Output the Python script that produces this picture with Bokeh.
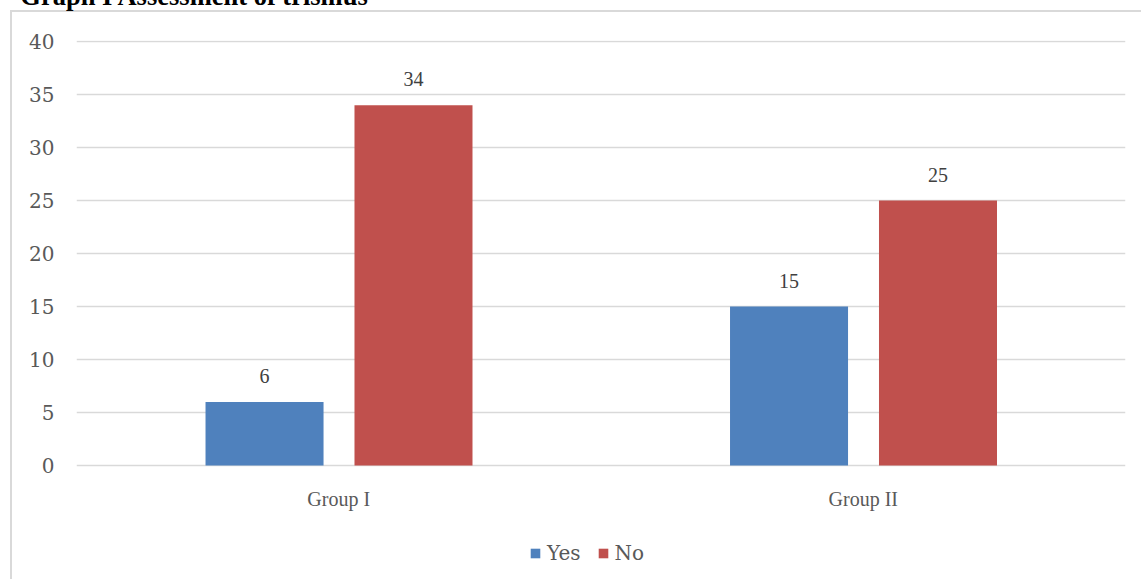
from bokeh.plotting import figure
from bokeh.models import (ColumnDataSource, Range1d, LabelSet,
                          Legend, LegendItem, FixedTicker, LinearAxis)
from bokeh.embed import file_html
from bokeh.resources import INLINE

groups = ["Group I", "Group II"]
yes_vals = [6, 15]
no_vals = [34, 25]
y_ticks = [0, 5, 10, 15, 20, 25, 30, 35, 40]
title_text = "Graph I Assessment of trismus"

BLUE = "#4F81BD"
RED = "#C0504D"
GRID = "#D9D9D9"
TXT = "#595959"
FONT = "DejaVu Serif"
FS = "20px"
SHIFT = 40  # canvas shifted up so the cut-off title sits at the window's top edge
BAR_W = 0.225
OFF_YES, OFF_NO = -0.1415, 0.1425

n = len(groups)
centers = [i + 0.5 for i in range(n)]
src = ColumnDataSource(dict(groups=groups, xc=centers,
                            x_yes=[c + OFF_YES for c in centers],
                            x_no=[c + OFF_NO for c in centers],
                            yes=yes_vals, no=no_vals, base=[0] * n,
                            yes_lbl=[str(v) for v in yes_vals],
                            no_lbl=[str(v) for v in no_vals]))

p = figure(width=1141, height=579 + SHIFT, x_range=Range1d(0, n),
           y_range=Range1d(-10.755, 40.1), x_axis_location=None,
           output_backend="svg", toolbar_location=None,
           min_border_left=76, min_border_right=16, min_border_top=40 + SHIFT, min_border_bottom=0)
p.outline_line_color = None
p.background_fill_alpha = 0
p.border_fill_alpha = 0
# outer chart border (light grey top and left edges), behind the transparent canvas
p.styles = {
    "margin-top": f"-{SHIFT}px",
    "background-color": "white",
    "background-image": "linear-gradient(#D9D9D9, #D9D9D9), linear-gradient(#D9D9D9, #D9D9D9)",
    "background-size": "1200px 2px, 2px 800px",
    "background-position": f"10px {10 + SHIFT}px, 10px {10 + SHIFT}px",
    "background-repeat": "no-repeat",
}

r_yes = p.vbar(x="x_yes", top="yes", width=BAR_W, source=src, fill_color=BLUE, line_color=None)
r_no = p.vbar(x="x_no", top="no", width=BAR_W, source=src, fill_color=RED, line_color=None)

for xcol, col, lbl in (("x_yes", "yes", "yes_lbl"), ("x_no", "no", "no_lbl")):
    p.add_layout(LabelSet(x=xcol, y=col, text=lbl, source=src,
                          y_offset=19, text_align="center", text_baseline="alphabetic",
                          text_font=FONT, text_font_size=FS, text_color="#404040"))

# category labels under the baseline
p.add_layout(LabelSet(x="xc", y="base", text="groups", source=src, y_offset=-40,
                      text_align="center", text_baseline="alphabetic",
                      text_font=FONT, text_font_size=FS, text_color=TXT))

p.yaxis.ticker = FixedTicker(ticks=y_ticks)
p.yaxis.axis_line_color = None
p.yaxis.major_tick_line_color = None
p.yaxis.minor_tick_line_color = None
p.yaxis.major_tick_out = 0
p.yaxis.major_tick_in = 0
p.yaxis.major_label_standoff = 22
p.yaxis.major_label_text_font = FONT
p.yaxis.major_label_text_font_size = FS
p.yaxis.major_label_text_color = TXT

p.xgrid.grid_line_color = None
p.ygrid.grid_line_color = GRID
p.ygrid.grid_line_width = 1.5

# caption above the chart (partly cut off at the page edge, as in the source)
title_pos = 0.15
tax = LinearAxis(ticker=FixedTicker(ticks=[title_pos]),
                 major_label_overrides={title_pos: title_text},
                 axis_line_color=None, major_tick_line_color=None, minor_tick_line_color=None,
                 major_tick_out=0, major_tick_in=0, minor_tick_out=0, minor_tick_in=0,
                 major_label_standoff=30, major_label_text_font="Liberation Serif",
                 major_label_text_font_size="26.5px", major_label_text_font_style="bold",
                 major_label_text_color="black")
p.add_layout(tax, "above")

legend = Legend(items=[LegendItem(label="Yes", renderers=[r_yes]),
                       LegendItem(label="No", renderers=[r_no])],
                orientation="horizontal", location=(453, 14),
                glyph_width=12, glyph_height=12, label_standoff=6, spacing=16,
                padding=0, margin=0, border_line_color=None, background_fill_alpha=0,
                label_text_font=FONT, label_text_font_size=FS, label_text_color=TXT,
                label_height=20)
p.add_layout(legend)

open("out.html", "w").write(file_html(p, INLINE))
